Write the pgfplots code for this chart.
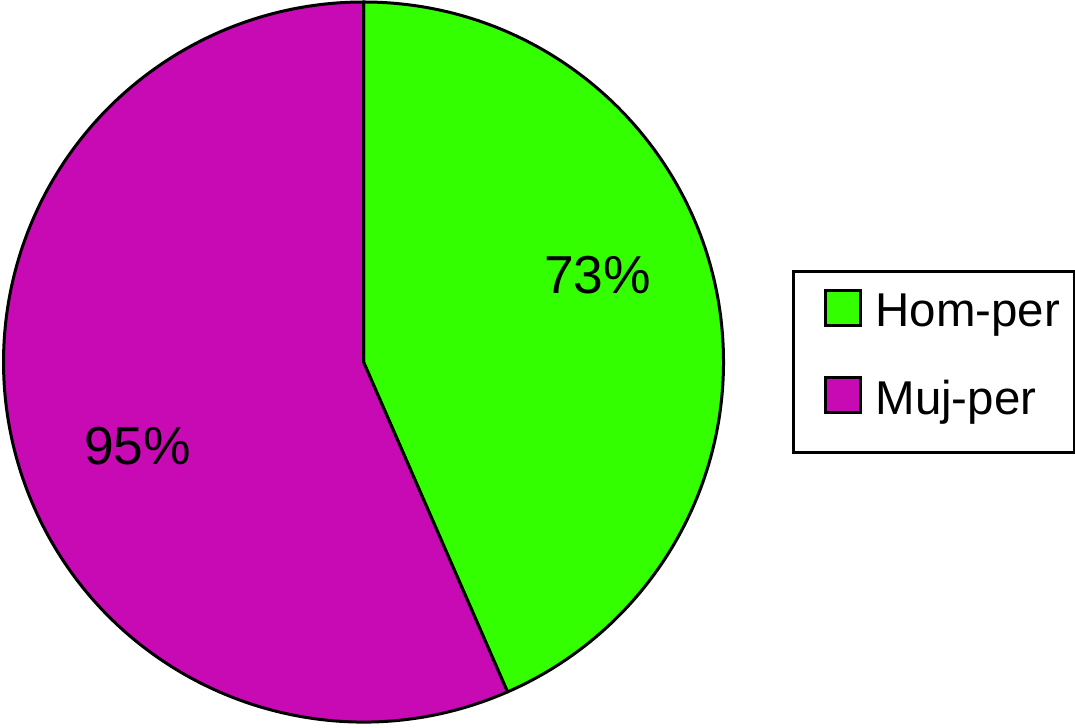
\documentclass[border=0pt]{standalone}
\usepackage{pgfplots}
\pgfplotsset{compat=1.18}
\usepackage{fontspec}
\setmainfont{Liberation Sans}

\definecolor{homgreen}{RGB}{51,255,0}
\definecolor{mujpurple}{RGB}{200,10,180}

% slice values
\def\homval{73}
\def\mujval{95}
\pgfmathsetmacro\homangle{\homval/(\homval+\mujval)*360}

\begin{document}
\begin{tikzpicture}
\begin{axis}[
    width=10.75cm, height=7.27cm, scale only axis,
    xmin=0, xmax=1075, ymin=0, ymax=727,
    hide axis,
    clip=false,
    legend cell align=left,
    legend image code/.code={
        \path (0mm,-2.9mm) (0mm,2.9mm);
        \draw[#1, line width=0.3mm] (1.6mm,-0.73mm) rectangle (5.1mm,2.77mm);},
    legend style={draw=black, line width=0.3mm, fill=white, outer sep=0pt,
        at={(axis cs:793.5,455.5)}, anchor=north west,
        inner xsep=1.4mm, inner ysep=1.65mm, row sep=2.56mm,
        font=\fontsize{13.5}{16}\selectfont,
        nodes={inner sep=0pt, text depth=0.45em},
        /tikz/every odd column/.append style={column sep=1.4mm}},
]
\path (rel axis cs:0,0) coordinate (bl) (rel axis cs:1,1) coordinate (tr);

\filldraw[fill=homgreen, draw=black, line width=0.3mm, line join=round]
    (axis cs:363.5,365) -- (axis cs:363.5,725)
    arc[start angle=90, end angle={90-\homangle}, radius=36mm] -- cycle;
\filldraw[fill=mujpurple, draw=black, line width=0.3mm, line join=round]
    (axis cs:363.5,365) -- ++({90-\homangle}:36mm)
    arc[start angle={90-\homangle}, end angle=-270, radius=36mm] -- cycle;

\node[font=\fontsize{15.2}{18}\selectfont, inner sep=0pt] at (axis cs:597.5,451.5) {73\%};
\node[font=\fontsize{15.2}{18}\selectfont, inner sep=0pt] at (axis cs:137.5,280.5) {95\%};

\addlegendimage{fill=homgreen, draw=black}
\addlegendentry{Hom-per}
\addlegendimage{fill=mujpurple, draw=black}
\addlegendentry{Muj-per}
\end{axis}
\pgfresetboundingbox
\path[use as bounding box] (bl) rectangle (tr);
\end{tikzpicture}
\end{document}
